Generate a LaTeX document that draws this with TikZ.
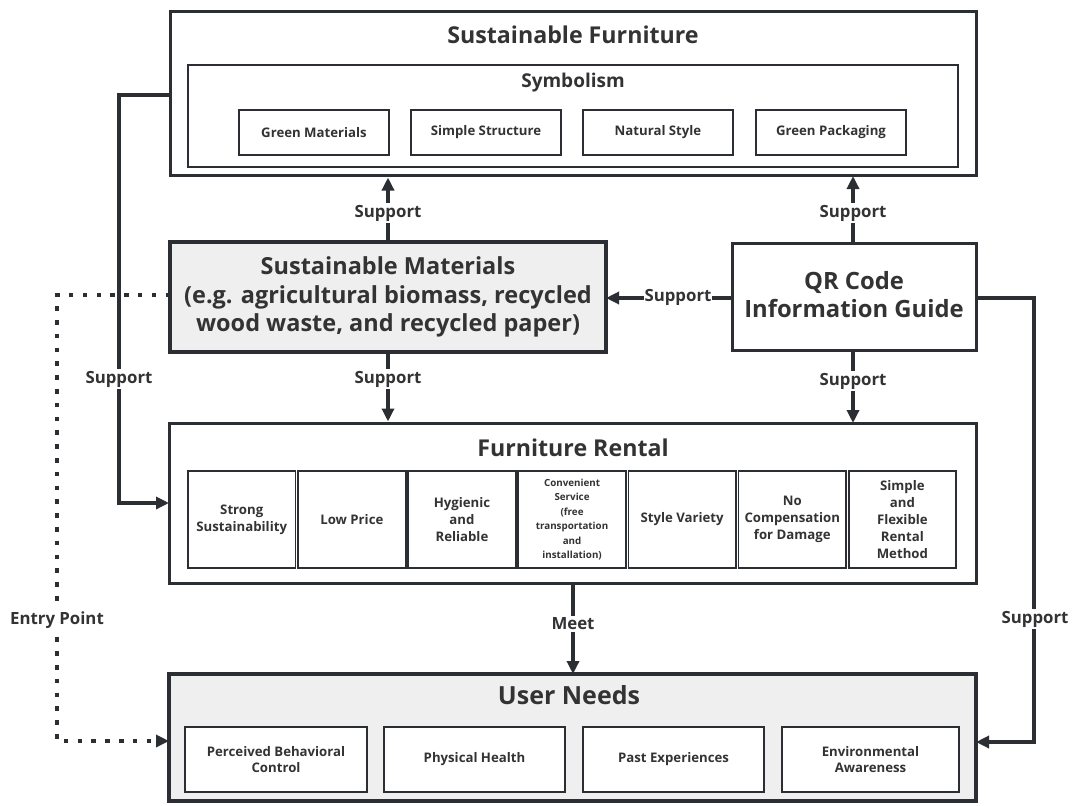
\documentclass[tikz,border=0pt]{standalone}
\usepackage{fontspec}
\setmainfont{Open Sans}
\usetikzlibrary{arrows.meta,calc}
\definecolor{ink}{HTML}{2B2F33}
\definecolor{txt}{HTML}{333333}
\definecolor{panel}{HTML}{EFEFEF}
\begin{document}
\begin{tikzpicture}[x=1pt,y=-1pt,
  outer/.style={draw=ink, line width=3pt, fill=white, inner sep=0pt},
  greybox/.style={draw=ink, line width=3.5pt, fill=panel, inner sep=0pt},
  innerbox/.style={draw=ink, line width=2.2pt, fill=white, inner sep=0pt},
  sub/.style={draw=ink, line width=1.8pt, fill=white, align=center, text=txt, inner sep=2pt,
    font=\fontsize{13.2}{16.8}\selectfont\bfseries},
  head/.style={text=txt, font=\fontsize{23.2}{26}\selectfont\bfseries, inner sep=0pt},
  big/.style={text=txt, align=center, font=\fontsize{23.5}{28.5}\selectfont\bfseries, inner sep=0pt},
  lbl/.style={fill=white, text=txt, font=\fontsize{16.8}{18}\selectfont\bfseries, inner sep=1.5pt},
  conn/.style={draw=ink, line width=4pt, -{Triangle[length=13pt,width=12pt]}},
  entry/.style={draw=ink, line width=4.5pt, dash pattern=on 4.5pt off 9.3pt, -{Triangle[length=13pt,width=12pt]}}
]
\useasboundingbox (0,0) rectangle (1075,805);

% ---------- Sustainable Furniture ----------
\node[outer, minimum width=806pt, minimum height=164pt] (sf) at (573,94) {};
\node[head] (sft) at (573,35) {Sustainable Furniture};
\node[innerbox, minimum width=770pt, minimum height=102pt] (sym) at (573,116) {};
\node[text=txt, font=\fontsize{19}{22}\selectfont\bfseries, inner sep=0pt] (symt) at (573,83) {Symbolism};
\node[sub, minimum width=150pt, minimum height=45pt] (s1) at (314,132.5) {Green Materials};
\node[sub, minimum width=150pt, minimum height=45pt] (s2) at (486,132.5) {Simple Structure};
\node[sub, minimum width=150pt, minimum height=45pt] (s3) at (658,132.5) {Natural Style};
\node[sub, minimum width=150pt, minimum height=45pt] (s4) at (831,132.5) {Green Packaging};

% ---------- Sustainable Materials ----------
\node[greybox, line width=4.5pt, minimum width=436pt, minimum height=110pt] (sm) at (388,297) {};
\node[big] (smt) at (388,297) {Sustainable Materials\\(e.g. agricultural biomass, recycled\\wood waste, and recycled paper)};

% ---------- QR ----------
\node[outer, minimum width=244pt, minimum height=107pt] (qr) at (854,296.5) {};
\node[big, font=\fontsize{23.8}{28}\selectfont\bfseries] (qrt) at (854,295) {QR Code\\Information Guide};

% ---------- Furniture Rental ----------
\node[outer, minimum width=807pt, minimum height=160pt] (fr) at (572.5,503) {};
\node[head] (frt) at (573,448) {Furniture Rental};
\foreach \i/\t in {0/{Strong\\Sustainability},1/{Low Price},2/{Hygienic\\and\\Reliable},4/{Style Variety},5/{No\\Compensation\\for Damage},6/{Simple\\and\\Flexible\\Rental\\Method}}{
  \node[sub, minimum width=107.5pt, minimum height=97pt] (f\i) at ({241.75+110.1*\i},519.5) {\t};
}
\node[sub, minimum width=107.5pt, minimum height=97pt, font=\fontsize{9.8}{14.4}\selectfont\bfseries] (f3) at ({241.75+110.1*3},519.5) {Convenient\\Service\\(free\\transportation\\and\\installation)};

% ---------- User Needs ----------
\node[greybox, minimum width=807pt, minimum height=127pt] (un) at (572.5,737.5) {};
\node[head, font=\fontsize{25}{28}\selectfont\bfseries] (unt) at (569,695) {User Needs};
\node[sub, minimum width=182pt, minimum height=65pt, line width=1.5pt] (u1) at (276,759.5) {Perceived Behavioral\\Control};
\node[sub, minimum width=181pt, minimum height=65pt, line width=1.5pt] (u2) at (474.5,759.5) {Physical Health};
\node[sub, minimum width=181pt, minimum height=65pt, line width=1.5pt] (u3) at (673.5,759.5) {Past Experiences};
\node[sub, minimum width=177pt, minimum height=65pt, line width=1.5pt] (u4) at (870.5,759.5) {Environmental\\Awareness};

% ---------- coordinates ----------
\coordinate (sfL) at (170,95);
\coordinate (bendL1) at (119,95);
\coordinate (bendL2) at (119,503);
\coordinate (frL) at (169,503);
\coordinate (qrR) at (976,298);
\coordinate (bendR1) at (1034,298);
\coordinate (bendR2) at (1034,742);
\coordinate (unR) at (976,742);
\coordinate (smL) at (170,295);
\coordinate (bendD1) at (57,295);
\coordinate (bendD2) at (57,741);
\coordinate (unL) at (169,741);
\coordinate (qrW) at (732,298);
\coordinate (smE) at (606,298);

% ---------- connectors ----------
\draw[entry] (smL) -- (bendD1) -- (bendD2) -- (unL);
\draw[conn] (sfL) -- (bendL1) -- (bendL2) -- (frL);
\draw[conn] (sm.north) -- (sm.north |- sf.south);
\draw[conn] (qr.north -| 853,0) -- (853,176);
\draw[conn] (sm.south) -- (sm.south |- fr.north);
\draw[conn] (853,350) -- (853,423);
\draw[conn] (qrW) -- (smE);
\draw[conn] (qrR) -- (bendR1) -- (bendR2) -- (unR);
\draw[conn] (fr.south -| 573,0) -- (573,674);

% ---------- labels ----------
\node[lbl] (l1) at (388,213) {Support};
\node[lbl] (l2) at (853,213) {Support};
\node[lbl] (l3) at (388,379) {Support};
\node[lbl] (l4) at (853,381) {Support};
\node[lbl, inner sep=0.3pt] (l5) at (678,297) {Support};
\node[lbl] (l6) at (119,379) {Support};
\node[lbl] (l7) at (1035,619) {Support};
\node[lbl] (l8) at (573,624) {Meet};
\node[lbl] (l9) at (57,620) {Entry Point};
\end{tikzpicture}
\end{document}
